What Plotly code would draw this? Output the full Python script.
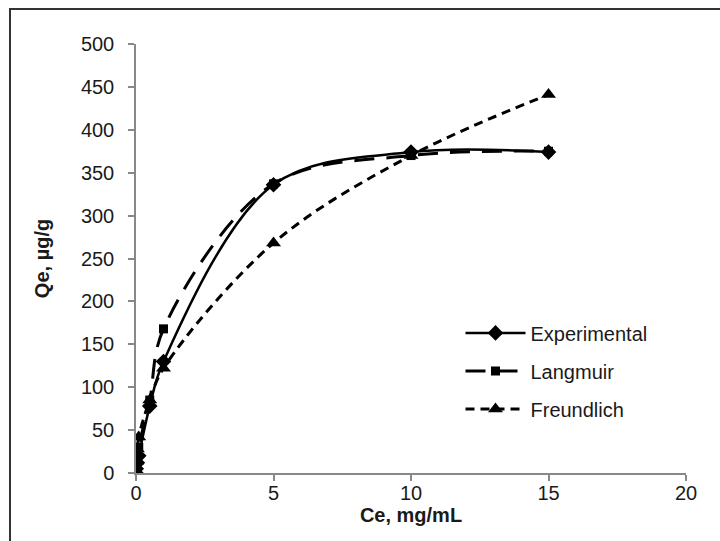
import plotly.graph_objects as go

ce = [0, 0.01, 0.05, 0.1, 0.5, 1, 5, 10, 15]
exp_q = [0, 5, 12, 20, 78, 130, 336, 374, 374]
lang_q = [0, 4, 16, 30, 85, 168, 337, 370, 375]
freu_q = [0, 13, 28, 42, 85, 122, 268, 370, 441]
names = ["Experimental", "Langmuir", "Freundlich"]
x_ticks = [0, 5, 10, 15, 20]
y_ticks = [0, 50, 100, 150, 200, 250, 300, 350, 400, 450, 500]

fig = go.Figure()
fig.add_trace(go.Scatter(x=ce, y=exp_q, name=names[0], legendgroup="a",
                         mode="lines+markers", line=dict(color="black", width=2.5, shape="spline", smoothing=1),
                         marker=dict(symbol="diamond", size=12, color="black")))
fig.add_trace(go.Scatter(x=ce, y=lang_q, name=names[1], legendgroup="b",
                         mode="lines+markers", line=dict(color="black", width=3, shape="spline", smoothing=1, dash="20px,12px"),
                         marker=dict(symbol="square", size=9, color="black")))
fig.add_trace(go.Scatter(x=ce, y=freu_q, name=names[2], legendgroup="c",
                         mode="lines+markers", line=dict(color="black", width=3, shape="spline", smoothing=1, dash="9px,6px"),
                         marker=dict(symbol="triangle-up", size=13, color="black")))

font = "Liberation Sans, Arial, sans-serif"
fig.update_layout(
    width=720, height=541,
    margin=dict(l=136, r=34, t=44, b=68),
    paper_bgcolor="white", plot_bgcolor="white",
    font=dict(family=font, size=20, color="#1a1a1a"),
    showlegend=True,
    legend=dict(x=0.59, y=0.372, xanchor="left", yanchor="top",
                font=dict(size=20, color="#1a1a1a"), itemwidth=60, tracegroupgap=9,
                bgcolor="rgba(0,0,0,0)"),
    xaxis=dict(range=[0, 20], tickvals=x_ticks, showgrid=False, zeroline=False,
               showline=True, linecolor="#888", linewidth=1.5, ticks="outside", ticklen=6,
               tickcolor="#888", tickwidth=1.5, ticklabelstandoff=-5,
               title=dict(text="<b>Ce, mg/mL</b>", font=dict(size=20, color="#1a1a1a"), standoff=4)),
    yaxis=dict(range=[0, 500], tickvals=y_ticks, showgrid=False, zeroline=False,
               showline=True, linecolor="#888", linewidth=1.5, ticks="outside", ticklen=6,
               tickcolor="#888", tickwidth=1.5, ticklabelstandoff=10,
               title=dict(text="<b>Qe, µg/g</b>", font=dict(size=20, color="#1a1a1a"), standoff=26)),
    shapes=[dict(type="rect", xref="paper", yref="paper",
                 x0=(10 - 136) / 550, x1=(725 - 136) / 550,
                 y0=(473 - 546) / 429, y1=(473 - 9) / 429,
                 line=dict(color="#333", width=2), fillcolor="rgba(0,0,0,0)", layer="below")],
)
fig.write_html("out.html")
